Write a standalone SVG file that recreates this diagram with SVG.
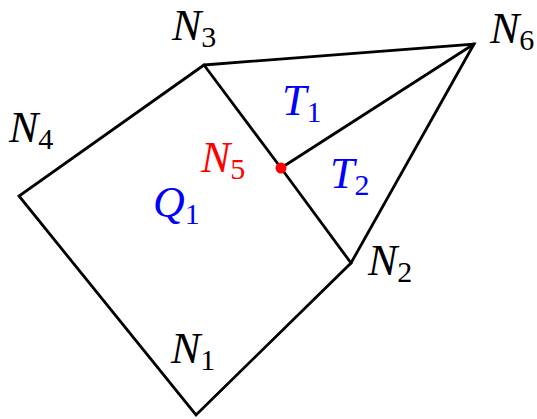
<svg xmlns="http://www.w3.org/2000/svg" width="537" height="419" viewBox="0 0 537 419">
<style>
.e{stroke:#000;stroke-width:2.8;fill:none;stroke-linejoin:miter;stroke-linecap:round}
.l{font-family:"Liberation Serif","DejaVu Serif",serif;font-style:italic;font-size:44px;fill:#000}
.s{font-style:normal;font-size:30px}
.b{fill:#0000ff}
.r{fill:#ff0000}
</style>
<rect width="537" height="419" fill="#fff"/>
<g id="connectors">
<polyline class="e" points="204,65 19,196 196,415 351,263 281,168 204,65"/>
<polyline class="e" points="204,65 474,44 351,263"/>
<line class="e" x1="281" y1="168" x2="474" y2="44"/>
</g>
<g id="N1"><text class="l" x="171" y="363">N<tspan class="s" dy="7">1</tspan></text></g>
<g id="N2"><text class="l" x="368" y="275">N<tspan class="s" dy="7">2</tspan></text></g>
<g id="N3"><text class="l" x="172" y="40">N<tspan class="s" dy="7">3</tspan></text></g>
<g id="N4"><text class="l" x="9" y="142">N<tspan class="s" dy="7">4</tspan></text></g>
<g id="N5"><circle cx="281" cy="168" r="5.5" fill="#ff0000"/><text class="l r" x="201" y="172">N<tspan class="s" dy="7">5</tspan></text></g>
<g id="N6"><text class="l" x="490" y="43">N<tspan class="s" dy="7">6</tspan></text></g>
<g id="Q1"><text class="l b" x="153" y="217">Q<tspan class="s" dy="7">1</tspan></text></g>
<g id="T1"><text class="l b" x="282" y="115">T<tspan class="s" dy="7">1</tspan></text></g>
<g id="T2"><text class="l b" x="330" y="188">T<tspan class="s" dy="7">2</tspan></text></g>
</svg>
